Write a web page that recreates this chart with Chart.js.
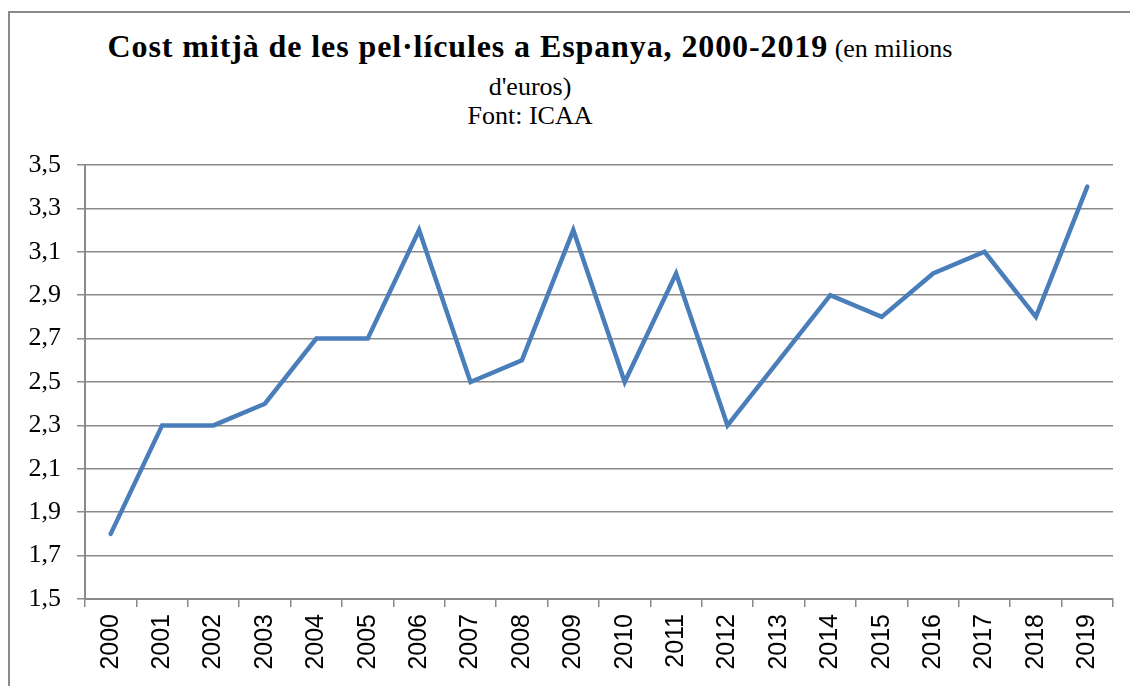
<!DOCTYPE html>
<html>
<head>
<meta charset="utf-8">
<script src="https://cdn.jsdelivr.net/npm/chart.js@4"></script>
<style>
  html, body { margin: 0; padding: 0; background: #fff; }
  #frame {
    position: absolute; left: 8px; top: 11px; width: 1140px; height: 700px;
    border-left: 2px solid #8a8a8a; border-top: 2px solid #8a8a8a;
  }
  .tline {
    position: absolute; left: 0; width: 1060px; text-align: center; white-space: nowrap;
    font-family: "Liberation Serif", "DejaVu Serif", serif; color: #000;
    font-size: 26px; line-height: 26px;
  }
  .tline b { font-size: 32px; letter-spacing: 0.9px; }
  #t1 { top: 30px; line-height: 32px; }
  #t2 { top: 74px; }
  #t3 { top: 103px; }
  #wrap { position: absolute; left: 0; top: 0; width: 1130px; height: 686px; }
</style>
</head>
<body>
<div id="frame"></div>
<div class="tline" id="t1"><b>Cost mitjà de les pel·lícules a Espanya, 2000-2019</b> (en milions</div>
<div class="tline" id="t2">d'euros)</div>
<div class="tline" id="t3">Font: ICAA</div>
<div id="wrap"><canvas id="chart"></canvas></div>
<script>
const years = [
  "2000", "2001", "2002", "2003", "2004", "2005", "2006", "2007", "2008", "2009",
  "2010", "2011", "2012", "2013", "2014", "2015", "2016", "2017", "2018", "2019",
];

const cost = [
  1.8, 2.3, 2.3, 2.4, 2.7, 2.7, 3.2, 2.5, 2.6, 3.2,
  2.5, 3.0, 2.3, 2.6, 2.9, 2.8, 3.0, 3.1, 2.8, 3.4,
];

const yMin = 1.5;
const yMax = 3.5;
const yStep = 0.2;

const fmtTick = (v) => v.toFixed(1).replace(".", ",");

const gridGray = "#8a8a8a";

new Chart(document.getElementById("chart"), {
  type: "line",
  data: {
    labels: years,
    datasets: [
      {
        data: cost,
        borderColor: "#4a7ebb",
        borderWidth: 4.5,
        borderCapStyle: "round",
        borderJoinStyle: "miter",
        pointRadius: 0,
        tension: 0,
        fill: false,
      },
    ],
  },
  options: {
    responsive: true,
    maintainAspectRatio: false,
    animation: false,
    layout: { padding: { top: 165, right: 17, bottom: 0, left: 0 } },
    plugins: {
      legend: { display: false },
      tooltip: { enabled: false },
    },
    scales: {
      x: {
        offset: true,
        grid: {
          offset: true,
          drawOnChartArea: false,
          drawTicks: true,
          tickLength: 8,
          color: gridGray,
          lineWidth: 1.5,
        },
        border: { color: gridGray, width: 2 },
        ticks: {
          minRotation: 90,
          maxRotation: 90,
          autoSkip: false,
          padding: 7,
          color: "#000",
          font: { family: "'Liberation Sans', Arial, sans-serif", size: 25 },
        },
        afterFit(scale) {
          scale.height = 87;
        },
      },
      y: {
        min: yMin,
        max: yMax,
        grid: {
          color: gridGray,
          lineWidth: 1.5,
          tickLength: 8,
        },
        border: { color: gridGray, width: 2 },
        ticks: {
          stepSize: yStep,
          padding: 16,
          color: "#000",
          font: { family: "'Liberation Serif', serif", size: 26 },
          callback: fmtTick,
        },
        afterFit(scale) {
          scale.width = 85;
        },
      },
    },
  },
});
</script>
</body>
</html>
